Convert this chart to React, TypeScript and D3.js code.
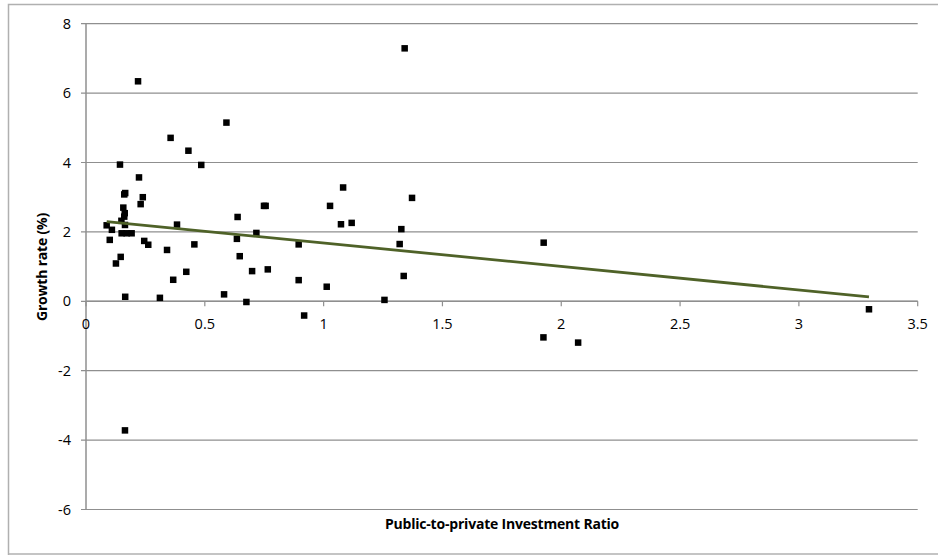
import React from "react";
import * as d3 from "d3";

// Public-to-private investment ratio (x) vs. growth rate in % (y)
const ratio: number[] = [
  0.143, 0.223, 0.165, 0.161, 0.239, 0.23, 0.157, 0.163, 0.161, 0.149,
  0.087, 0.164, 0.109, 0.15, 0.171, 0.192, 0.383, 0.1, 0.245, 0.262,
  0.341, 0.456, 0.146, 0.126, 0.422, 0.367, 0.165, 0.311, 0.485, 0.431,
  0.219, 0.356, 0.591, 0.638, 0.749, 0.756, 0.635, 0.717, 0.647, 0.699,
  0.765, 0.581, 0.675, 0.895, 0.895, 0.918, 1.013, 1.027, 1.082, 1.073,
  1.118, 1.256, 1.372, 1.327, 1.32, 1.337, 1.341, 1.926, 1.925, 2.071,
  3.295, 0.164,
];
const growth: number[] = [
  3.94, 3.57, 3.12, 3.08, 3.0, 2.8, 2.7, 2.54, 2.44, 2.32,
  2.19, 2.2, 2.06, 1.96, 1.96, 1.96, 2.21, 1.77, 1.74, 1.63,
  1.48, 1.64, 1.28, 1.09, 0.85, 0.62, 0.13, 0.1, 3.93, 4.34,
  6.34, 4.71, 5.15, 2.43, 2.75, 2.75, 1.8, 1.97, 1.3, 0.87,
  0.92, 0.2, -0.02, 1.64, 0.61, -0.41, 0.42, 2.75, 3.28, 2.22,
  2.26, 0.04, 2.98, 2.08, 1.65, 0.73, 7.29, 1.69, -1.04, -1.19,
  -0.23, -3.72,
];

const xTicks: number[] = [0, 0.5, 1, 1.5, 2, 2.5, 3, 3.5];
const yTicks: number[] = [-6, -4, -2, 0, 2, 4, 6, 8];

const xTitle = "Public-to-private Investment Ratio";
const yTitle = "Growth rate (%)";

const W = 938;
const H = 555;
const FONT = "'Open Sans', 'Noto Sans', sans-serif";

// Ordinary least-squares linear trend
function linearFit(xs: number[], ys: number[]) {
  const mx = d3.mean(xs) as number;
  const my = d3.mean(ys) as number;
  let sxy = 0;
  let sxx = 0;
  xs.forEach((x, i) => {
    sxy += (x - mx) * (ys[i] - my);
    sxx += (x - mx) * (x - mx);
  });
  const slope = sxy / sxx;
  return { slope, intercept: my - slope * mx };
}

export default function App() {
  const x = d3.scaleLinear().domain([0, 3.5]).range([86, 917.7]);
  const y = d3.scaleLinear().domain([-6, 8]).range([509.5, 23.7]);

  const points = ratio.map((r, i) => ({ r, g: growth[i] }));
  const fit = linearFit(ratio, growth);
  const [xMin, xMax] = d3.extent(ratio) as [number, number];
  const trend = d3
    .line<number>()
    .x((d) => x(d))
    .y((d) => y(fit.intercept + fit.slope * d));

  const sq = 6.5;
  const gridColor = "#8f8f8f";

  return (
    <svg
      width={W}
      height={H}
      style={{ position: "absolute", left: 0, top: 0, background: "#fff" }}
    >
      {/* chart frame */}
      <path
        d={`M8.5,${H} V4.5 H${W}`}
        fill="none"
        stroke="#b0b0b0"
        strokeWidth={1.5}
      />
      <line x1={8.5} x2={W} y1={554} y2={554} stroke="#b0b0b0" strokeWidth={1.5} />

      {/* horizontal gridlines */}
      {yTicks.map((t) => (
        <g key={`gy${t}`}>
          <line
            x1={x(0) - 5}
            x2={x(3.5)}
            y1={y(t)}
            y2={y(t)}
            stroke={gridColor}
            strokeWidth={1.2}
          />
          <text
            x={71}
            y={y(t)}
            dy="0.35em"
            textAnchor="end"
            fontFamily={FONT}
            fontSize={14.5}
            fill="#000"
          >
            {t}
          </text>
        </g>
      ))}

      {/* vertical axis */}
      <line
        x1={x(0)}
        x2={x(0)}
        y1={y(8)}
        y2={y(-6)}
        stroke={gridColor}
        strokeWidth={1.5}
      />

      {/* horizontal axis at zero with tick marks */}
      <line
        x1={x(0)}
        x2={x(3.5)}
        y1={y(0)}
        y2={y(0)}
        stroke={gridColor}
        strokeWidth={1.5}
      />
      {xTicks.map((t) => (
        <g key={`gx${t}`}>
          <line
            x1={x(t)}
            x2={x(t)}
            y1={y(0)}
            y2={y(0) + 5}
            stroke={gridColor}
            strokeWidth={1.2}
          />
          <text
            x={x(t)}
            y={324}
            dy="0.35em"
            textAnchor="middle"
            fontFamily={FONT}
            fontSize={14.5}
            fill="#000"
          >
            {t}
          </text>
        </g>
      ))}

      {/* data markers */}
      {points.map((p, i) => (
        <rect
          key={i}
          x={x(p.r) - sq / 2}
          y={y(p.g) - sq / 2}
          width={sq}
          height={sq}
          fill="#000"
        />
      ))}

      {/* linear trendline */}
      <path
        d={trend([xMin, xMax]) || ""}
        fill="none"
        stroke="#4f6228"
        strokeWidth={2.8}
      />

      {/* axis titles */}
      <text
        x={502}
        y={524}
        dy="0.35em"
        textAnchor="middle"
        fontFamily={FONT}
        fontWeight={700}
        fontSize={14}
        letterSpacing={-0.2}
        fill="#000"
      >
        {xTitle}
      </text>
      <text
        transform={`translate(42,267) rotate(-90)`}
        dy="0.35em"
        textAnchor="middle"
        fontFamily={FONT}
        fontWeight={700}
        fontSize={14}
        letterSpacing={-0.2}
        fill="#000"
      >
        {yTitle}
      </text>
    </svg>
  );
}
